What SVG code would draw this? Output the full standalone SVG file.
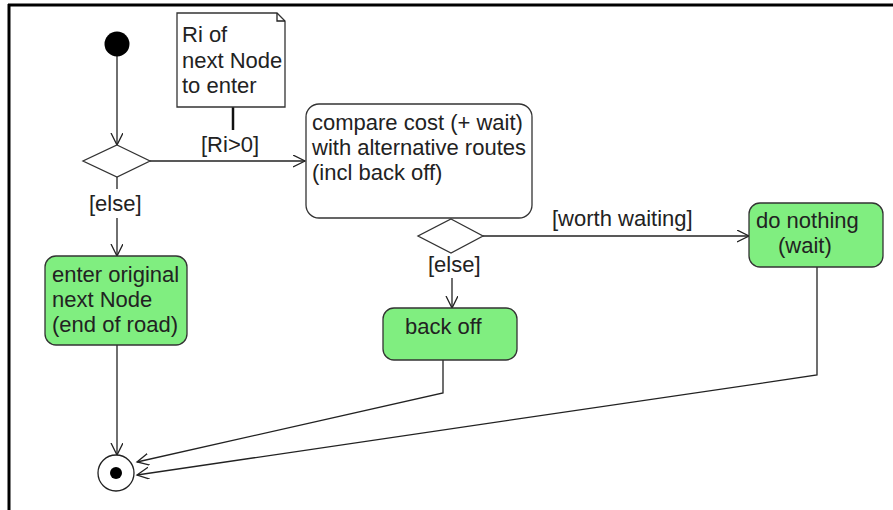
<svg xmlns="http://www.w3.org/2000/svg" width="893" height="510" viewBox="0 0 893 510">
<style>
text{font-family:"Liberation Sans",Arial,sans-serif;font-size:22px;fill:#222}
.act{fill:#80ee80;stroke:#333;stroke-width:1.3}
.box{fill:#fff;stroke:#333;stroke-width:1.3}
.ln{fill:none;stroke:#222;stroke-width:1.3}
</style>
<defs>
<marker id="arr" markerUnits="userSpaceOnUse" markerWidth="14" markerHeight="14" refX="12" refY="6" orient="auto">
<path d="M0,0 L12,6 L0,12" fill="none" stroke="#222" stroke-width="1.3"/>
</marker>
</defs>
<rect width="893" height="510" fill="#fff"/>
<g id="frame">
<line x1="8" y1="5" x2="893" y2="5" stroke="#000" stroke-width="3"/>
<line x1="9" y1="4" x2="9" y2="510" stroke="#000" stroke-width="3"/>
</g>
<g id="connectors">
<path class="ln" d="M117,56 L117,145" marker-end="url(#arr)"/>
<path class="ln" d="M150,161 L305,161" marker-end="url(#arr)"/>
<path class="ln" d="M117,177 L117,189"/>
<path class="ln" d="M117,218 L117,256" marker-end="url(#arr)"/>
<path class="ln" d="M483,236 L749,236" marker-end="url(#arr)"/>
<path class="ln" d="M452,278 L452,308" marker-end="url(#arr)"/>
<path class="ln" d="M117,345 L117,455" marker-end="url(#arr)"/>
<path class="ln" d="M443,360 L443,393 L137,462" marker-end="url(#arr)"/>
<path class="ln" d="M817,267 L817,375 L137,475" marker-end="url(#arr)"/>
<line x1="233" y1="107" x2="233" y2="130" stroke="#111" stroke-width="2.5"/>
<text x="201" y="152">[Ri&gt;0]</text>
<text x="89" y="211">[else]</text>
<text x="428" y="272">[else]</text>
<text x="552" y="226">[worth waiting]</text>
</g>
<g id="start">
<circle cx="117" cy="44" r="12.5" fill="#000"/>
</g>
<g id="note">
<path class="box" d="M177,13 L277,13 L285,21 L285,107 L177,107 Z"/>
<path class="ln" d="M277,13 L277,21 L285,21"/>
<text x="182" y="42">Ri of</text>
<text x="182" y="68">next Node</text>
<text x="182" y="93">to enter</text>
</g>
<g id="decision1">
<path class="box" d="M117,145 L150,161 L117,177 L83,161 Z"/>
</g>
<g id="compare">
<rect class="box" x="306" y="104" width="226" height="114" rx="13"/>
<text x="312" y="130">compare cost (+ wait)</text>
<text x="312" y="155">with alternative routes</text>
<text x="312" y="180">(incl back off)</text>
</g>
<g id="decision2">
<path class="box" d="M451,219 L483,236 L451,253 L418,236 Z"/>
</g>
<g id="enter">
<rect class="act" x="45" y="256" width="142" height="89" rx="11"/>
<text x="52" y="282">enter original</text>
<text x="52" y="307">next Node</text>
<text x="52" y="332">(end of road)</text>
</g>
<g id="backoff">
<rect class="act" x="383" y="308" width="134" height="52" rx="11"/>
<text x="405" y="334">back off</text>
</g>
<g id="donothing">
<rect class="act" x="749" y="203" width="134" height="64" rx="11"/>
<text x="756" y="228">do nothing</text>
<text x="778" y="253">(wait)</text>
</g>
<g id="final">
<circle cx="116" cy="473" r="18" fill="#fff" stroke="#222" stroke-width="1.3"/>
<circle cx="116" cy="473" r="6" fill="#000"/>
</g>
</svg>
